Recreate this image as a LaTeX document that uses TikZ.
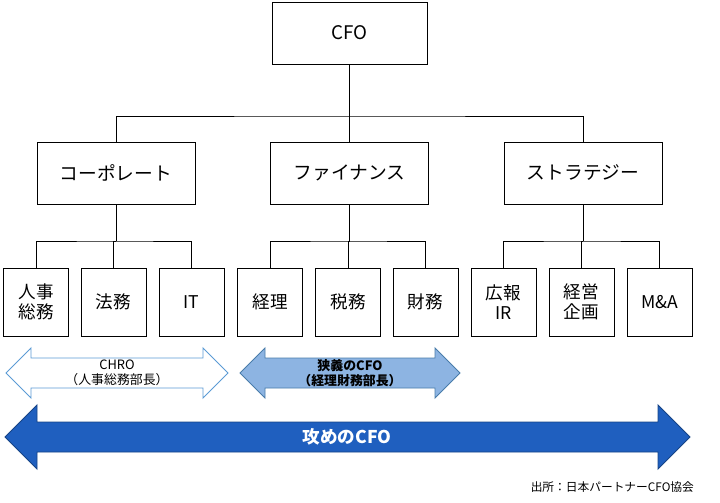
\documentclass[tikz,border=0pt]{standalone}
\usepackage{fontspec}
\setmainfont{Noto Sans CJK JP}
\usetikzlibrary{positioning}
\definecolor{LineBlue}{HTML}{5B9BD5}
\definecolor{MidBlue}{HTML}{8DB4E2}
\definecolor{DeepBlue}{HTML}{1F5FBF}
\tikzset{
  box/.style={draw,line width=0.8pt,fill=white,inner sep=0pt,font=\fontsize{16}{18}\selectfont},
  top/.style={box,minimum width=4.65cm,minimum height=1.86cm},
  mid/.style={box,minimum width=4.74cm,minimum height=1.86cm},
  leaf/.style={box,minimum width=1.95cm,minimum height=2.04cm,align=center,font=\fontsize{15}{17}\selectfont},
  link/.style={line width=0.8pt}
}
\begin{document}
\begin{tikzpicture}[x=0.03cm,y=-0.03cm]
\useasboundingbox (0,0) rectangle (720,503);
% boxes
\node[top] (cfo) at (349.5,33) {CFO};
\node[mid] (corp) at (116,173) {コーポレート};
\node[mid] (fin) at (349.5,173) {ファイナンス};
\node[mid] (str) at (583,173) {ストラテジー};
\foreach \x/\n/\t in {36/hr/{人事\\総務},113.5/law/法務,191.5/it/IT,270/acc/経理,348/tax/税務,425.5/trs/財務,503.5/pr/{広報\\IR},581.5/plan/{経営\\企画},659.5/ma/M\&A}
  \node[leaf] (\n) at (\x,302) {\t};
% connectors
\draw[link] (cfo.south) -- (349.5,116) coordinate (h1);
\draw[link] (corp.north) |- (h1) -| (str.north);
\draw[link] (h1) -- (fin.north);
\foreach \p/\a/\b/\c in {corp/hr/law/it,fin/acc/tax/trs,str/pr/plan/ma}{
  \draw[link] (\p.south) -- (\p.south |- 0,241) coordinate (h\p);
  \draw[link] (\a.north) |- (h\p) -| (\c.north);
  \draw[link] (\b.north) |- (h\p);
}
% arrows
\draw[LineBlue,line width=0.8pt,fill=white] (6,373) -- (31,348) -- (31,358) -- (203,358) -- (203,348) -- (228,373) -- (203,398) -- (203,388) -- (31,388) -- (31,398) -- cycle;
\node[align=center,font=\fontsize{11}{13}\selectfont] (chro) at (117,373) {CHRO\\（人事総務部長）};
\draw[LineBlue!80!black,line width=0.8pt,fill=MidBlue] (240,373) -- (265,348) -- (265,358) -- (435,358) -- (435,348) -- (460,373) -- (435,398) -- (435,388) -- (265,388) -- (265,398) -- cycle;
\node[align=center,font=\bfseries\fontsize{11}{13}\selectfont] (narrow) at (350,373) {狭義のCFO\\（経理財務部長）};
\draw[DeepBlue!70!black,line width=0.8pt,fill=DeepBlue] (5,437) -- (37,405) -- (37,422) -- (658,422) -- (658,405) -- (690,437) -- (658,469) -- (658,452) -- (37,452) -- (37,469) -- cycle;
\node[white,font=\bfseries\fontsize{15}{17}\selectfont] (attack) at (347,437) {攻めのCFO};
\node[anchor=east,font=\fontsize{10}{12}\selectfont] (src) at (698,487) {出所：日本パートナーCFO協会};
\end{tikzpicture}
\end{document}
